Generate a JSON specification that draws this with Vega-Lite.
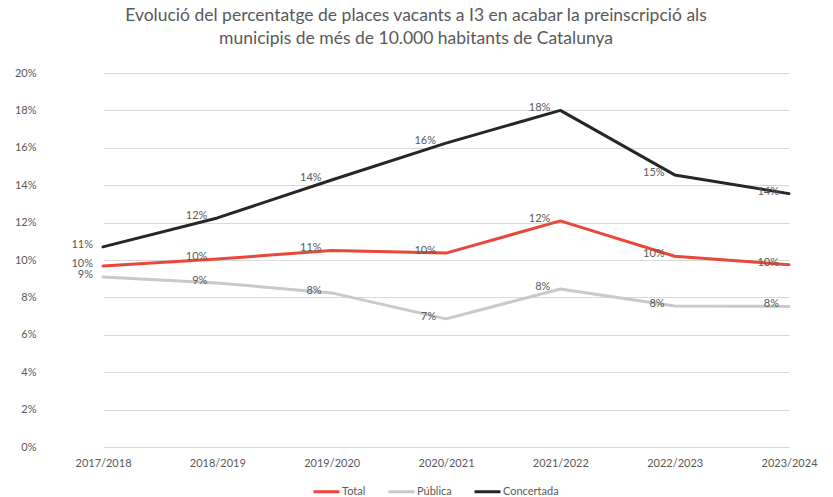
{
  "$schema": "https://vega.github.io/schema/vega-lite/v6.json",
  "width": 776,
  "height": 374,
  "autosize": {"type": "none"},
  "padding": {"left": 46, "top": 73, "right": 11, "bottom": 50},
  "background": "white",
  "config": {
    "font": "Lato",
    "view": {"stroke": null}
  },
  "title": {
    "text": ["Evolució del percentatge de places vacants a I3 en acabar la preinscripció als", "municipis de més de 10.000 habitants de Catalunya"],
    "font": "Lato",
    "fontSize": 17.5,
    "fontWeight": "normal",
    "color": "#595959",
    "lineHeight": 23,
    "anchor": "middle",
    "dx": -18,
    "offset": 20
  },
  "data": {
    "values": [
      {"curs": "2017/2018", "serie": "Total", "valor": 0.0968},
      {"curs": "2018/2019", "serie": "Total", "valor": 0.1005},
      {"curs": "2019/2020", "serie": "Total", "valor": 0.1051},
      {"curs": "2020/2021", "serie": "Total", "valor": 0.1037},
      {"curs": "2021/2022", "serie": "Total", "valor": 0.1209},
      {"curs": "2022/2023", "serie": "Total", "valor": 0.102},
      {"curs": "2023/2024", "serie": "Total", "valor": 0.0975},
      {"curs": "2017/2018", "serie": "Pública", "valor": 0.0909},
      {"curs": "2018/2019", "serie": "Pública", "valor": 0.0877},
      {"curs": "2019/2020", "serie": "Pública", "valor": 0.0824},
      {"curs": "2020/2021", "serie": "Pública", "valor": 0.0685},
      {"curs": "2021/2022", "serie": "Pública", "valor": 0.0845},
      {"curs": "2022/2023", "serie": "Pública", "valor": 0.0754},
      {"curs": "2023/2024", "serie": "Pública", "valor": 0.0752},
      {"curs": "2017/2018", "serie": "Concertada", "valor": 0.107},
      {"curs": "2018/2019", "serie": "Concertada", "valor": 0.1225},
      {"curs": "2019/2020", "serie": "Concertada", "valor": 0.1428},
      {"curs": "2020/2021", "serie": "Concertada", "valor": 0.1625},
      {"curs": "2021/2022", "serie": "Concertada", "valor": 0.18},
      {"curs": "2022/2023", "serie": "Concertada", "valor": 0.1455},
      {"curs": "2023/2024", "serie": "Concertada", "valor": 0.1355}
    ]
  },
  "encoding": {
    "x": {
      "field": "curs",
      "type": "ordinal",
      "sort": null,
      "scale": {"type": "point", "range": [57, 743], "padding": 0},
      "axis": {
        "title": null,
        "labelAngle": 0,
        "labelColor": "#595959",
        "labelFontSize": 11,
        "labelPadding": 10,
        "ticks": false,
        "domain": false,
        "grid": false
      }
    },
    "y": {
      "field": "valor",
      "type": "quantitative",
      "scale": {"domain": [0, 0.2], "nice": false},
      "axis": {
        "title": null,
        "format": ".0%",
        "values": [0, 0.02, 0.04, 0.06, 0.08, 0.1, 0.12, 0.14, 0.16, 0.18, 0.2],
        "labelColor": "#595959",
        "labelFontSize": 11,
        "labelPadding": 10,
        "ticks": false,
        "domain": false,
        "gridColor": "#D9D9D9",
        "gridWidth": 1
      }
    }
  },
  "layer": [
    {
      "mark": {"type": "line", "strokeWidth": 3, "strokeCap": "round", "strokeJoin": "round"},
      "encoding": {
        "color": {
          "field": "serie",
          "type": "nominal",
          "scale": {"domain": ["Total", "Pública", "Concertada"], "range": ["#E8473A", "#C9C9C9", "#262626"]},
          "legend": {
            "title": null,
            "orient": "none",
            "legendX": 266,
            "legendY": 404,
            "direction": "horizontal",
            "symbolType": "stroke",
            "symbolStrokeWidth": 3,
            "symbolSize": 676,
            "labelColor": "#595959",
            "labelFontSize": 11,
            "labelOffset": 1,
            "columnPadding": 16
          }
        }
      }
    },
    {
      "mark": {"type": "text", "align": "right", "baseline": "middle", "dx": -10, "dy": -2, "fontSize": 11, "color": "#595959"},
      "encoding": {
        "text": {"field": "valor", "type": "quantitative", "format": ".0%"},
        "detail": {"field": "serie"}
      }
    }
  ]
}
